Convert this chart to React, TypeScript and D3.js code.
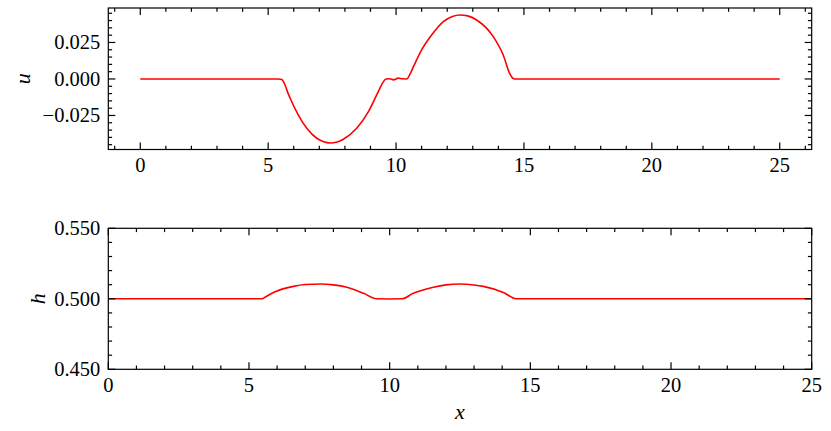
import React from 'react';
import * as d3 from 'd3';

// u(x) samples
const uX = [0, 5.4, 5.53, 5.66, 5.76, 5.86, 6.18, 6.51, 6.9, 7.15, 7.42, 7.7, 7.94, 8.46, 8.92, 9.31, 9.5, 9.6, 9.75, 9.9, 10.09, 10.25, 10.42, 10.55, 10.68, 11.0, 11.39, 11.85, 12.2, 12.5, 12.8, 13.15, 13.8, 14.19, 14.45, 14.58, 14.7, 25];
const uY = [0, 0, -0.0004, -0.0041, -0.009, -0.0132, -0.0247, -0.0338, -0.0406, -0.0428, -0.0438, -0.0432, -0.0413, -0.0338, -0.0224, -0.0085, -0.002, 0.0, 0.0001, -0.0006, 0.0006, 0.0001, 0.0, 0.0035, 0.0084, 0.0199, 0.0301, 0.0393, 0.0428, 0.0438, 0.0432, 0.0404, 0.029, 0.0164, 0.0035, 0.0004, 0, 0];

// h(x) samples
const hX = [0, 5.46, 5.6, 5.93, 6.58, 7.0, 7.55, 8.0, 8.48, 9.07, 9.54, 10.0, 10.43, 10.84, 11.55, 12.0, 12.5, 13.0, 13.33, 14.04, 14.5, 25];
const hY = [0.5, 0.5, 0.5015, 0.505, 0.5088, 0.5101, 0.5105, 0.5099, 0.5082, 0.5039, 0.5, 0.4999, 0.5, 0.5039, 0.5082, 0.5099, 0.5105, 0.5098, 0.5088, 0.5045, 0.5, 0.5];

const xMajor = [0, 5, 10, 15, 20, 25];
const uMajor = [-0.025, 0, 0.025];
const uLabels = ['\u22120.025', '0.000', '0.025'];
const hMajor = [0.45, 0.5, 0.55];
const hLabels = ['0.450', '0.500', '0.550'];

const W = 831;
const H = 431;
const FONT = 'Liberation Serif, DejaVu Serif, Times New Roman, serif';
const FS = 20.5;
const txt: React.CSSProperties = { fontFamily: FONT, fontSize: FS };
const ital: React.CSSProperties = { fontFamily: FONT, fontSize: 22, fontStyle: 'italic' };

type PanelProps = {
  top: number;
  bottom: number;
  xDomain: [number, number];
  yDomain: [number, number];
  xs: number[];
  ys: number[];
  yMajor: number[];
  yLabels: string[];
  yMinorStep: number;
  yLabel: string;
  yLabelX: number;
};

function Panel(p: PanelProps) {
  const left = 108.3;
  const right = 811.7;
  const x = d3.scaleLinear().domain(p.xDomain).range([left, right]);
  const y = d3.scaleLinear().domain(p.yDomain).range([p.bottom, p.top]);
  const line = d3
    .line<number>()
    .x((_, i) => x(p.xs[i]))
    .y((d) => y(d))
    .curve(d3.curveMonotoneX);
  const xMinor = d3.range(Math.ceil(p.xDomain[0]), Math.floor(p.xDomain[1]) + 1, 1).filter((v) => v % 5 !== 0);
  const n0 = Math.ceil(p.yDomain[0] / p.yMinorStep - 1e-6);
  const n1 = Math.floor(p.yDomain[1] / p.yMinorStep + 1e-6);
  const yMinor = d3.range(n0, n1 + 1).map((k) => k * p.yMinorStep)
    .filter((v) => !p.yMajor.some((m) => Math.abs(m - v) < 1e-9));
  const MJ = 7;
  const MN = 3.8;
  const sw = 1.2;
  return (
    <g>
      <path d={line(p.ys) || ''} fill="none" stroke="#ff0000" strokeWidth={1.6} />
      {xMajor.filter((v) => v >= p.xDomain[0] && v <= p.xDomain[1]).map((v) => (
        <g key={'xm' + v}>
          <line x1={x(v)} x2={x(v)} y1={p.bottom} y2={p.bottom - MJ} stroke="#000" strokeWidth={sw} />
          <line x1={x(v)} x2={x(v)} y1={p.top} y2={p.top + MJ} stroke="#000" strokeWidth={sw} />
          <text x={x(v)} y={p.bottom + 8} textAnchor="middle" dominantBaseline="hanging" style={txt}>{v}</text>
        </g>
      ))}
      {xMinor.map((v) => (
        <g key={'xn' + v}>
          <line x1={x(v)} x2={x(v)} y1={p.bottom} y2={p.bottom - MN} stroke="#000" strokeWidth={sw} />
          <line x1={x(v)} x2={x(v)} y1={p.top} y2={p.top + MN} stroke="#000" strokeWidth={sw} />
        </g>
      ))}
      {p.yMajor.map((v, i) => (
        <g key={'ym' + v}>
          <line x1={left} x2={left + MJ} y1={y(v)} y2={y(v)} stroke="#000" strokeWidth={sw} />
          <line x1={right} x2={right - MJ} y1={y(v)} y2={y(v)} stroke="#000" strokeWidth={sw} />
          <text x={left - 8} y={y(v)} textAnchor="end" dominantBaseline="central" style={txt}>{p.yLabels[i]}</text>
        </g>
      ))}
      {yMinor.map((v) => (
        <g key={'yn' + v}>
          <line x1={left} x2={left + MN} y1={y(v)} y2={y(v)} stroke="#000" strokeWidth={sw} />
          <line x1={right} x2={right - MN} y1={y(v)} y2={y(v)} stroke="#000" strokeWidth={sw} />
        </g>
      ))}
      <rect x={left} y={p.top} width={right - left} height={p.bottom - p.top} fill="none" stroke="#000" strokeWidth={sw} />
      <text
        transform={`translate(${p.yLabelX},${(p.top + p.bottom) / 2}) rotate(-90)`}
        textAnchor="middle"
        dominantBaseline="central"
        style={ital}
      >{p.yLabel}</text>
    </g>
  );
}

export default function App() {
  return (
    <svg width={W} height={H} style={{ position: 'absolute', left: 0, top: 0, background: '#fff' }}>
      <rect width={W} height={H} fill="#fff" />
      <Panel
        top={8}
        bottom={149.5}
        xDomain={[-1.25, 26.25]}
        yDomain={[-0.0483, 0.0486]}
        xs={uX}
        ys={uY}
        yMajor={uMajor}
        yLabels={uLabels}
        yMinorStep={0.005}
        yLabel="u"
        yLabelX={22}
      />
      <Panel
        top={228.3}
        bottom={369.3}
        xDomain={[0, 25]}
        yDomain={[0.45, 0.55]}
        xs={hX}
        ys={hY}
        yMajor={hMajor}
        yLabels={hLabels}
        yMinorStep={0.01}
        yLabel="h"
        yLabelX={37}
      />
      <text x={460} y={411.5} textAnchor="middle" dominantBaseline="central" style={ital}>x</text>
    </svg>
  );
}
